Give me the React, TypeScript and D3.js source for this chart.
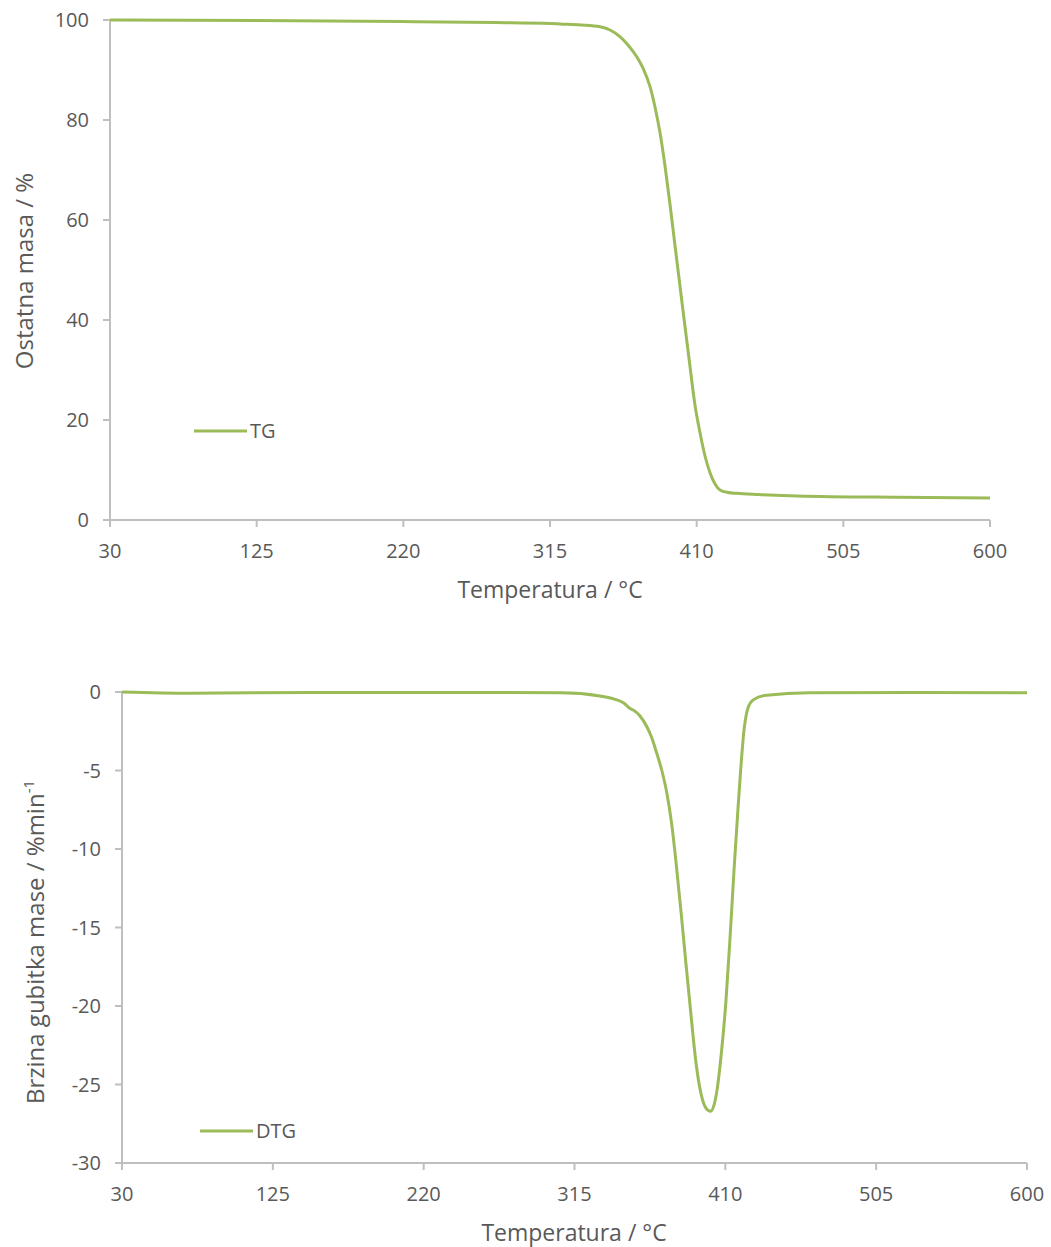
import React from "react";
import * as d3 from "d3";

const xTicks = [30, 125, 220, 315, 410, 505, 600];
const tgTicks = [0, 20, 40, 60, 80, 100];
const dtgTicks = [0, -5, -10, -15, -20, -25, -30];

// TG curve: temperature (°C), residual mass (%)
const tgTemp = [30, 125, 218, 280, 315, 321.5, 335, 347.4, 353.9, 360.3, 365.5, 371.2, 375.2, 379.8, 383.0, 386.3, 389.5, 392.7, 396.0, 400.3, 405.7, 408.9, 412.2, 415.4, 418.7, 421.9, 425.1, 430.3, 436, 450, 490, 540, 600];
const tgMass = [100, 99.9, 99.7, 99.5, 99.3, 99.2, 99.0, 98.66, 98.0, 96.66, 95.0, 92.66, 90.4, 86.66, 82.6, 77.4, 70.8, 63.2, 54.8, 44, 30.66, 23, 17.4, 12.8, 9.4, 7.2, 6.0, 5.5, 5.33, 5.1, 4.7, 4.55, 4.4];

// DTG curve: temperature (°C), rate of mass loss (%/min)
const dtgTemp = [30, 73, 150, 250, 306, 331, 340, 346, 350, 352, 356, 360.5, 363.6, 366.8, 370, 373.1, 376.2, 378.9, 382.1, 385.2, 388.4, 391.5, 394.7, 397.8, 400.7, 402.9, 405.0, 407.3, 410.3, 413.0, 415.5, 417.6, 419.7, 421.8, 424.3, 427.6, 436, 463, 530, 600];
const dtgRate = [0, -0.08, -0.03, -0.03, -0.05, -0.25, -0.45, -0.7, -1.05, -1.15, -1.5, -2.2, -2.9, -3.9, -5.0, -6.4, -8.4, -10.8, -14, -17.3, -20.6, -23.6, -25.6, -26.5, -26.7, -26.3, -25.2, -23.2, -19.8, -15.6, -11.3, -8.0, -4.9, -2.4, -1.0, -0.5, -0.2, -0.05, -0.03, -0.05];

const GREEN = "#9BBB59";
const AXIS = "#BFBFBF";
const TEXT = "#595959";
const FONT = "'Open Sans', Lato, sans-serif";

function Chart(props: {
  left: number; right: number; top: number; bottom: number;
  yTicks: number[]; yDomain: [number, number];
  temps: number[]; vals: number[];
  legend: string; legendX: number; legendY: number;
  yLabelX: number; yTitle: React.ReactNode; yTitleX: number; yTitleY: number;
  xTitleX: number; xTitleY: number;
}) {
  const x = d3.scaleLinear().domain([30, 600]).range([props.left, props.right]);
  const y = d3.scaleLinear().domain(props.yDomain).range([props.bottom, props.top]);
  const pts = props.temps.map((t, i) => [t, props.vals[i]] as [number, number]);
  const line = d3.line<[number, number]>().x(d => x(d[0])).y(d => y(d[1])).curve(d3.curveMonotoneX);
  return (
    <g>
      <line x1={props.left} x2={props.left} y1={props.top} y2={props.bottom} stroke={AXIS} strokeWidth={2} />
      {props.yTicks.map(t => (
        <g key={"y" + t}>
          <line x1={props.left - 7} x2={props.left} y1={y(t)} y2={y(t)} stroke={AXIS} strokeWidth={2} />
          <text x={props.yLabelX} y={y(t)} dy="0.36em" textAnchor="end" fontSize={20} fill={TEXT} fontFamily={FONT}>{t}</text>
        </g>
      ))}
      <line x1={props.left} x2={props.right} y1={props.bottom} y2={props.bottom} stroke={AXIS} strokeWidth={2} />
      {xTicks.map(t => (
        <g key={"x" + t}>
          <line x1={x(t)} x2={x(t)} y1={props.bottom} y2={props.bottom + 7} stroke={AXIS} strokeWidth={2} />
          <text x={x(t)} y={props.bottom + 38} textAnchor="middle" fontSize={20} fill={TEXT} fontFamily={FONT}>{t}</text>
        </g>
      ))}
      <path d={line(pts) || ""} fill="none" stroke={GREEN} strokeWidth={3} />
      <line x1={props.legendX} x2={props.legendX + 53} y1={props.legendY} y2={props.legendY} stroke={GREEN} strokeWidth={3} />
      <text x={props.legendX + 56} y={props.legendY} dy="0.36em" fontSize={20} fill={TEXT} fontFamily={FONT}>{props.legend}</text>
      <text x={props.xTitleX} y={props.xTitleY} textAnchor="middle" fontSize={23} fill={TEXT} fontFamily={FONT}>Temperatura / °C</text>
      <text transform={`translate(${props.yTitleX},${props.yTitleY}) rotate(-90)`} textAnchor="middle" fontSize={24} fill={TEXT} fontFamily={FONT}>{props.yTitle}</text>
    </g>
  );
}

export default function App() {
  return (
    <svg width={1051} height={1247} style={{ position: "absolute", left: 0, top: 0, background: "#fff" }}>
      <rect width={1051} height={1247} fill="#fff" />
      <Chart left={110} right={990} top={20} bottom={520} yTicks={tgTicks} yDomain={[0, 100]}
        temps={tgTemp} vals={tgMass} legend="TG" legendX={194} legendY={431}
        yLabelX={89} yTitle="Ostatna masa / %" yTitleX={33} yTitleY={271}
        xTitleX={550} xTitleY={598} />
      <Chart left={122} right={1027} top={692} bottom={1163} yTicks={dtgTicks} yDomain={[-30, 0]}
        temps={dtgTemp} vals={dtgRate} legend="DTG" legendX={200} legendY={1131}
        yLabelX={101} yTitle={<>Brzina gubitka mase /  %min<tspan dy={-10} fontSize={15}>-1</tspan></>} yTitleX={44} yTitleY={942}
        xTitleX={574} xTitleY={1241} />
    </svg>
  );
}
